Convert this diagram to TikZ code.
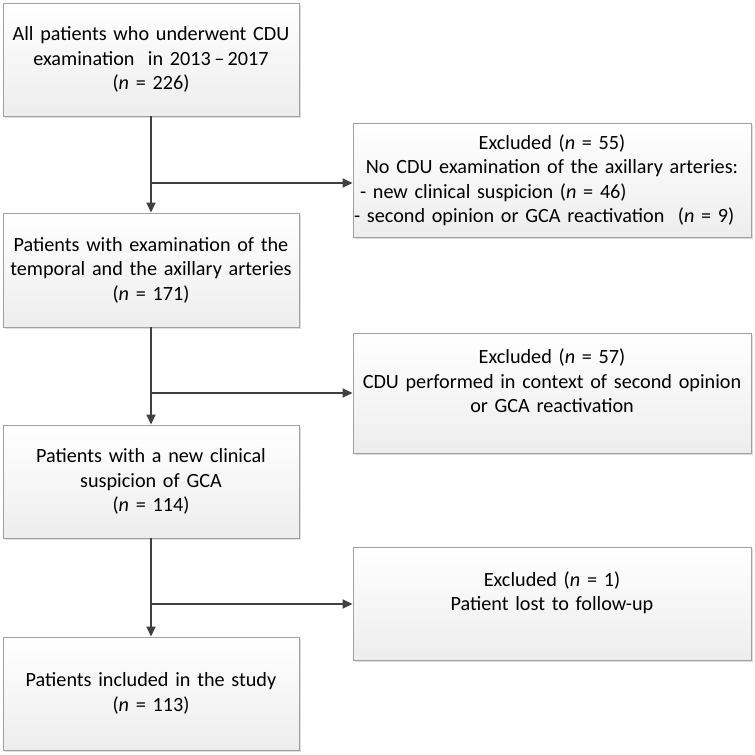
\documentclass[tikz,border=0pt]{standalone}
\usepackage{fontspec}
\setmainfont{Carlito}
\usetikzlibrary{arrows.meta,shadows}
\definecolor{arrowgray}{HTML}{404040}
\definecolor{boxline}{HTML}{A0A0A0}
\begin{document}
\begin{tikzpicture}[x=1pt,y=-1pt,
  flowbox/.style={draw=boxline, line width=0.9pt, top color=white, bottom color=gray!14,
    drop shadow={shadow xshift=2pt, shadow yshift=-2pt, fill=gray!45, opacity=0.6},
    inner sep=0pt, align=center, font=\fontsize{20.2}{24.5}\selectfont},
  leftbox/.style={flowbox, minimum width=296pt, text width=294pt},
  rightbox/.style={flowbox, minimum width=398pt, text width=396pt},
  flowarrow/.style={draw=arrowgray, line width=1.6pt, -{Triangle[length=10pt,width=9pt]}}
]
\useasboundingbox (0,0) rectangle (755,755);

\node[leftbox, minimum height=113pt] (b1) at (151,59.5)
  {All patients who underwent CDU\\examination\ \ in 2013\,–\,2017\\(\textit{n} = 226)};
\node[rightbox, minimum height=114pt] (b2) at (552,180)
  {Excluded (\textit{n} = 55)\\No CDU examination of the axillary arteries:\\
   \makebox[396pt][l]{\hspace*{6pt}- new clinical suspicion (\textit{n} = 46)}\\
   \makebox[396pt][l]{\hspace*{0pt}- second opinion or GCA reactivation\ \ (\textit{n} = 9)}};
\node[leftbox, minimum height=114pt] (b3) at (151,270)
  {Patients with examination of the\\temporal and the axillary arteries\\(\textit{n} = 171)};
\node[rightbox, minimum height=120pt] (b4) at (552,393)
  {Excluded (\textit{n} = 57)\\CDU performed in context of second opinion\\or GCA reactivation\\\mbox{}};
\node[leftbox, minimum height=113pt] (b5) at (151,481.5)
  {Patients with a new clinical\\suspicion of GCA\\(\textit{n} = 114)};
\node[rightbox, minimum height=113pt] (b6) at (552,603.5)
  {Excluded (\textit{n} = 1)\\Patient lost to follow-up\\\mbox{}};
\node[leftbox, minimum height=113pt] (b7) at (151,693.5)
  {Patients included in the study\\(\textit{n} = 113)};

\coordinate (j1) at (151,183);
\coordinate (j2) at (151,393);
\coordinate (j3) at (151,604);

\draw[flowarrow] (b1.south) -- (b3.north);
\draw[flowarrow] (b3.south) -- (b5.north);
\draw[flowarrow] (b5.south) -- (b7.north);
\draw[flowarrow] (j1) -- (j1 -| b2.west);
\draw[flowarrow] (j2) -- (j2 -| b4.west);
\draw[flowarrow] (j3) -- (j3 -| b6.west);
\end{tikzpicture}
\end{document}
